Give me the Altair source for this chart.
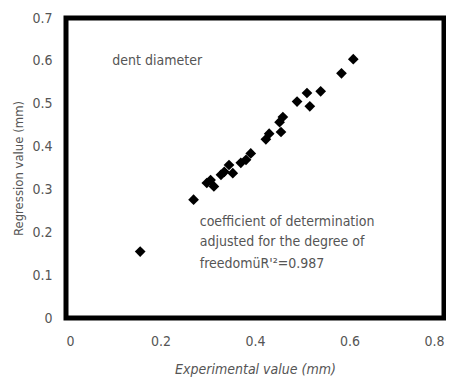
import altair as alt
import pandas as pd

exp_vals = [0.157, 0.270, 0.608, 0.583, 0.539, 0.510, 0.489, 0.516, 0.459, 0.452,
            0.455, 0.430, 0.423, 0.391, 0.381, 0.370, 0.345, 0.353, 0.335, 0.328,
            0.306, 0.313, 0.298]
reg_vals = [0.155, 0.276, 0.604, 0.571, 0.529, 0.525, 0.505, 0.494, 0.469, 0.457,
            0.434, 0.430, 0.417, 0.384, 0.369, 0.362, 0.357, 0.338, 0.341, 0.334,
            0.322, 0.307, 0.315]

notes_text = ["dent diameter", "coefficient of determination",
              "adjusted for the degree of", "freedomüR'²=0.987"]
notes_x = [0.098, 0.283, 0.283, 0.283]
notes_y = [0.600, 0.224, 0.177, 0.127]

df = pd.DataFrame({"x": exp_vals, "y": reg_vals})
notes = pd.DataFrame({"t": notes_text, "x": notes_x, "y": notes_y})

FONT = "DejaVu Sans Condensed"
GRAY = "#555555"

xs = alt.Scale(domain=[0, 0.8], nice=False)
ys = alt.Scale(domain=[0, 0.7], nice=False)

points = alt.Chart(df).mark_point(shape="diamond", filled=True, color="black",
                                  opacity=1, size=115).encode(
    x=alt.X("x:Q", scale=xs,
            axis=alt.Axis(title="Experimental value (mm)", values=[0, 0.2, 0.4, 0.6, 0.8],
                          format="~g", grid=False, domain=False, ticks=False,
                          labelPadding=16, labelFontSize=14, labelColor=GRAY, labelFont=FONT,
                          titleFont=FONT, titleFontSize=14, titleFontWeight="normal",
                          titleFontStyle="italic", titleColor=GRAY, titlePadding=14)),
    y=alt.Y("y:Q", scale=ys,
            axis=alt.Axis(title="Regression value (mm)", values=[0, 0.1, 0.2, 0.3, 0.4, 0.5, 0.6, 0.7],
                          format="~g", grid=False, domain=False, ticks=False,
                          labelPadding=14, labelFontSize=14, labelColor=GRAY, labelFont=FONT,
                          titleFont=FONT, titleFontSize=13, titleFontWeight="normal",
                          titleColor=GRAY, titlePadding=6)),
)

text = alt.Chart(notes).mark_text(align="left", baseline="middle", font=FONT,
                                  fontSize=14, color=GRAY).encode(
    x=alt.X("x:Q", scale=xs), y=alt.Y("y:Q", scale=ys), text="t:N")

chart = alt.layer(points, text).properties(
    width=378, height=300,
    background="white",
    autosize=alt.AutoSizeParams(type="none"),
    padding={"left": 58, "top": 10, "right": 2, "bottom": 64},
).configure_view(stroke="black", strokeWidth=5, strokeOpacity=1)

chart.save("out.html", embed_options={"renderer": "svg", "actions": False})
